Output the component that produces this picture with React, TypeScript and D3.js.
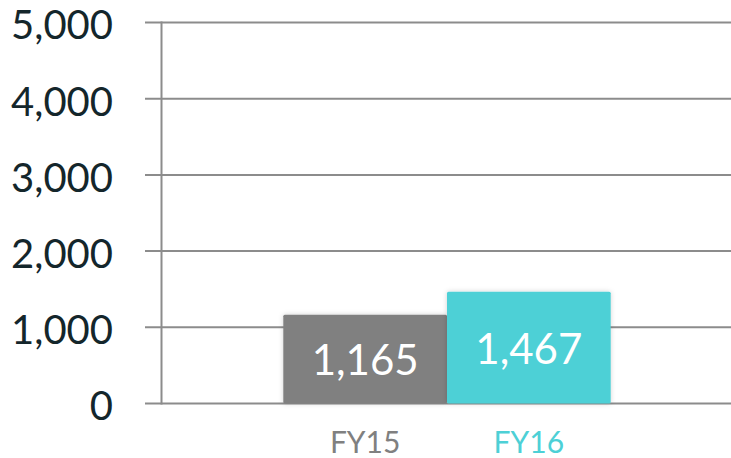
import React from "react";
import * as d3 from "d3";

const categories = ["FY15", "FY16"];
const values = [1165, 1467];
const barColors = ["#808080", "#4dd0d6"];
const labelColors = ["#808080", "#4dd0d6"];
const yTicks = [0, 1000, 2000, 3000, 4000, 5000];

const W = 731;
const H = 458;

export default function App() {
  const y = d3.scaleLinear().domain([0, 5000]).range([403.5, 22.5]);
  const x = d3.scaleBand().domain(categories).range([283.3, 610.7]).padding(0);
  const fmt = d3.format(",");
  const font = "Lato, 'Open Sans', sans-serif";

  return (
    <svg
      width={W}
      height={H}
      style={{ position: "absolute", left: 0, top: 0, background: "#fff" }}
    >
      <defs>
        <filter id="shadow" x="-10%" y="-10%" width="120%" height="120%">
          <feDropShadow dx="0" dy="0" stdDeviation="2.5" floodColor="#000" floodOpacity="0.18" />
        </filter>
      </defs>
      {yTicks.map((t) => (
        <g key={t}>
          <line x1={145} x2={W} y1={y(t)} y2={y(t)} stroke="#8c8c8c" strokeWidth={2} />
          <text
            x={113}
            y={y(t)}
            dy="0.42em"
            textAnchor="end"
            fontFamily={font}
            fontSize={40}
            fill="#14262b"
          >
            {fmt(t)}
          </text>
        </g>
      ))}
      <line x1={161.5} x2={161.5} y1={y(5000) - 1} y2={y(0) + 1} stroke="#8c8c8c" strokeWidth={2} />
      {categories.map((c, i) => {
        const top = y(values[i]);
        const bottom = y(0);
        return (
          <g key={c}>
            <rect
              x={x(c)!}
              y={top}
              width={x.bandwidth()}
              height={bottom - top}
              fill={barColors[i]}
              rx={1.5}
              filter="url(#shadow)"
            />
          </g>
        );
      })}
      {categories.map((c, i) => {
        const top = y(values[i]);
        const bottom = y(0);
        const cx = x(c)! + x.bandwidth() / 2;
        return (
          <g key={c + "-lbl"}>
            <text
              x={cx}
              y={(top + bottom) / 2}
              dy="0.38em"
              textAnchor="middle"
              fontFamily={font}
              fontSize={42}
              fill="#ffffff"
            >
              {fmt(values[i])}
            </text>
            <text
              x={cx}
              y={453}
              textAnchor="middle"
              fontFamily={font}
              fontSize={30}
              fill={labelColors[i]}
            >
              {c}
            </text>
          </g>
        );
      })}
    </svg>
  );
}
